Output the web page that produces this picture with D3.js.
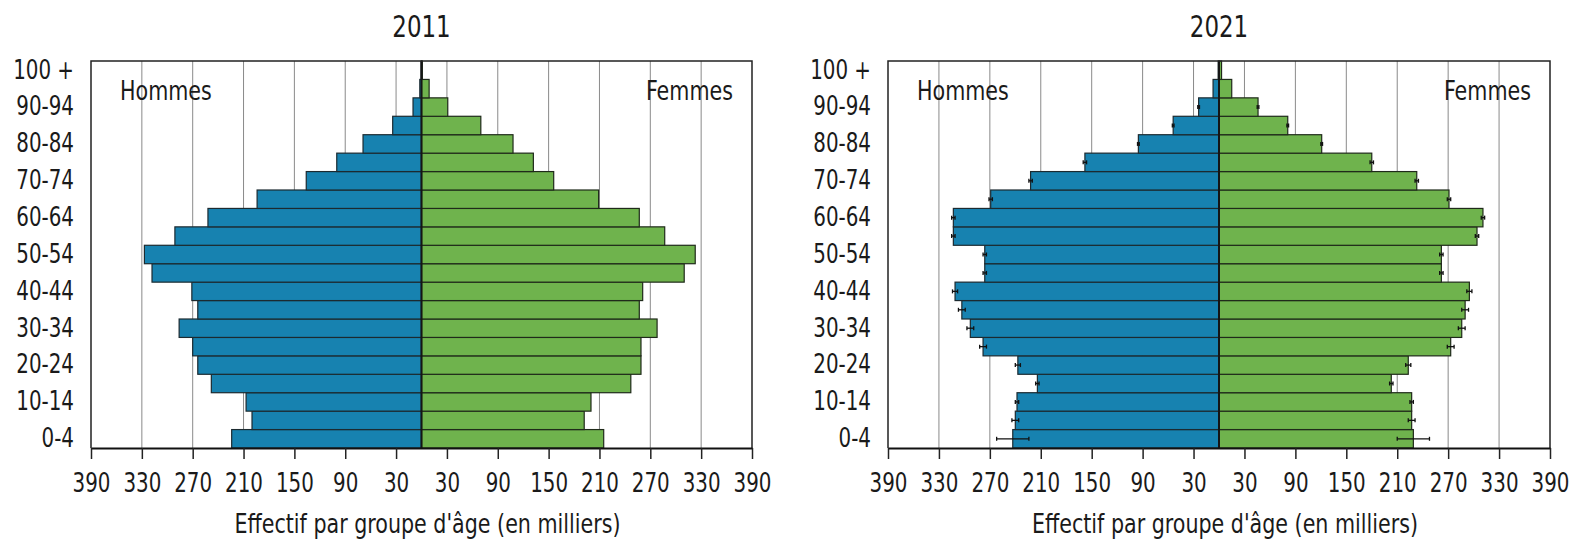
<!DOCTYPE html>
<html>
<head>
<meta charset="utf-8">
<script src="https://cdn.jsdelivr.net/npm/d3@7"></script>
<style>
  body { margin: 0; background: #fff; }
  svg text { font-family: "Liberation Sans Narrow", "DejaVu Sans Condensed", sans-serif; fill: #1a1a1a; }
</style>
</head>
<body>
<svg id="chart"></svg>
<script>
// age groups, from youngest (bottom) to oldest (top)
const ageGroups = ["0-4", "5-9", "10-14", "15-19", "20-24", "25-29", "30-34", "35-39", "40-44", "45-49",
    "50-54", "55-59", "60-64", "65-69", "70-74", "75-79", "80-84", "85-89", "90-94", "95-99", "100 +"];
const ageLabels = ["0-4", "10-14", "20-24", "30-34", "40-44", "50-54", "60-64", "70-74", "80-84", "90-94", "100 +"];
const xTicks = [-390, -330, -270, -210, -150, -90, -30, 30, 90, 150, 210, 270, 330, 390];

// effectifs en milliers
const hommes2011 = [224, 200, 207, 248, 264, 270, 286, 264, 271, 318, 327, 291, 252, 194, 136, 100, 69, 34, 10, 2, 0.5];
const femmes2011 = [215, 192, 200, 247, 259, 259, 278, 257, 261, 310, 323, 287, 257, 209, 156, 132, 108, 70, 31, 9, 1];
const hommes2021 = [243, 240, 238, 214, 237, 278, 293, 303, 311, 276, 276, 313, 313, 269, 222, 158, 95, 54, 24, 7, 1];
const femmes2021 = [229, 227, 227, 203, 223, 273, 286, 290, 295, 262, 262, 304, 311, 271, 233, 180, 121, 81, 46, 15, 3];
// demi-intervalle d'incertitude (projection 2021)
const erreur2021 = [19, 4, 2, 2, 3, 4, 4, 4, 3, 2, 2, 2, 2, 2, 2, 2, 1, 1, 1, 0, 0];

const SQ = 0.85; // narrow the condensed font a bit more

class Pyramid {
    constructor(config, data) {
        this.config = {
            parent: config.parent,
            left: config.left,
            top: config.top || 61,
            width: config.width || 661,
            height: config.height || 387,
            title: config.title || '',
            xlabel: config.xlabel || ''
        };
        this.data = data;
        this.init();
    }

    init() {
        let self = this;
        const c = self.config;

        self.chart = c.parent.append('g')
            .attr('transform', `translate(${c.left}, ${c.top})`);

        self.xscale = d3.scaleLinear()
            .domain([-390, 390])
            .range([0, c.width]);

        self.yscale = d3.scaleBand()
            .domain(ageGroups.slice().reverse())
            .range([0, c.height])
            .padding(0);

        self.xaxis = d3.axisBottom(self.xscale)
            .tickValues(xTicks)
            .tickFormat(d => Math.abs(d))
            .tickSize(11)
            .tickPadding(15)
            .tickSizeOuter(0);

        self.yaxis = d3.axisLeft(self.yscale)
            .tickValues(ageLabels)
            .tickSize(0)
            .tickPadding(17 / SQ);
    }

    label(parent, x, y, txt, size, anchor) {
        parent.append('text')
            .attr('transform', `translate(${x}, ${y}) scale(${SQ}, 1)`)
            .attr('text-anchor', anchor || 'start')
            .style('font-size', size + 'px')
            .text(txt);
    }

    render() {
        let self = this;
        const c = self.config;
        const x = self.xscale, y = self.yscale;

        // grid
        self.chart.append('g').selectAll('line')
            .data(xTicks.filter(d => Math.abs(d) < 390))
            .join('line')
            .attr('x1', d => x(d)).attr('x2', d => x(d))
            .attr('y1', 0).attr('y2', c.height)
            .attr('stroke', '#8a8a8a')
            .attr('stroke-width', 1);

        const rows = ageGroups.map((a, i) => ({
            age: a, h: self.data.hommes[i], f: self.data.femmes[i],
            e: self.data.erreur ? self.data.erreur[i] : 0
        }));

        self.chart.append('g').selectAll('rect')
            .data(rows)
            .join('rect')
            .attr('x', d => x(-d.h))
            .attr('y', d => y(d.age))
            .attr('width', d => x(0) - x(-d.h))
            .attr('height', y.bandwidth())
            .attr('fill', '#1782b0')
            .attr('stroke', '#1c2a30')
            .attr('stroke-width', 1.2);

        self.chart.append('g').selectAll('rect')
            .data(rows)
            .join('rect')
            .attr('x', x(0))
            .attr('y', d => y(d.age))
            .attr('width', d => x(d.f) - x(0))
            .attr('height', y.bandwidth())
            .attr('fill', '#6fb34d')
            .attr('stroke', '#1f2a1a')
            .attr('stroke-width', 1.2);

        if (self.data.erreur) {
            const eb = self.chart.append('g')
                .attr('stroke', '#111')
                .attr('stroke-width', 1.3);
            rows.filter(d => d.e > 0).forEach(d => {
                const cy = y(d.age) + y.bandwidth() / 2;
                [-d.h, d.f].forEach(v => {
                    eb.append('line')
                        .attr('x1', x(v - d.e)).attr('x2', x(v + d.e))
                        .attr('y1', cy).attr('y2', cy);
                    [v - d.e, v + d.e].forEach(t => {
                        eb.append('line')
                            .attr('x1', x(t)).attr('x2', x(t))
                            .attr('y1', cy - 2).attr('y2', cy + 2);
                    });
                });
            });
        }

        // centre line
        self.chart.append('line')
            .attr('x1', x(0)).attr('x2', x(0))
            .attr('y1', 0).attr('y2', c.height)
            .attr('stroke', '#151515')
            .attr('stroke-width', 2);

        // frame (left, top, right)
        self.chart.append('path')
            .attr('d', `M0,${c.height}V0H${c.width}V${c.height}`)
            .attr('fill', 'none')
            .attr('stroke', '#222')
            .attr('stroke-width', 1.5);

        const xg = self.chart.append('g')
            .attr('transform', `translate(0, ${c.height})`)
            .call(self.xaxis);
        xg.select('.domain').attr('stroke', '#111').attr('stroke-width', 2);
        xg.selectAll('.tick line').attr('stroke', '#222').attr('stroke-width', 1.5);
        xg.selectAll('text')
            .attr('transform', `scale(${SQ}, 1)`)
            .style('font-size', '26px')
            .attr('fill', '#1a1a1a');

        const yg = self.chart.append('g').call(self.yaxis);
        yg.select('.domain').remove();
        yg.selectAll('text')
            .attr('transform', `scale(${SQ}, 1)`)
            .style('font-size', '26px')
            .attr('fill', '#1a1a1a');

        self.label(self.chart, 29, 39, 'Hommes', 27);
        self.label(self.chart, c.width - 19, 39, 'Femmes', 27, 'end');
        self.label(c.parent, c.left + x(0), 37, c.title, 30, 'middle');
        self.label(c.parent, c.left + x(0) + 6, c.top + c.height + 85, c.xlabel, 27, 'middle');
    }
}

const svg = d3.select('#chart')
    .attr('width', 1577)
    .attr('height', 549);

svg.append('rect').attr('width', 1577).attr('height', 549).attr('fill', '#fff');

const xlabel = "Effectif par groupe d'âge (en milliers)";

const p2011 = new Pyramid({ parent: svg, left: 91, width: 661, title: '2011', xlabel: xlabel },
    { hommes: hommes2011, femmes: femmes2011 });
p2011.render();

const p2021 = new Pyramid({ parent: svg, left: 888, width: 662, title: '2021', xlabel: xlabel },
    { hommes: hommes2021, femmes: femmes2021, erreur: erreur2021 });
p2021.render();
</script>
</body>
</html>
